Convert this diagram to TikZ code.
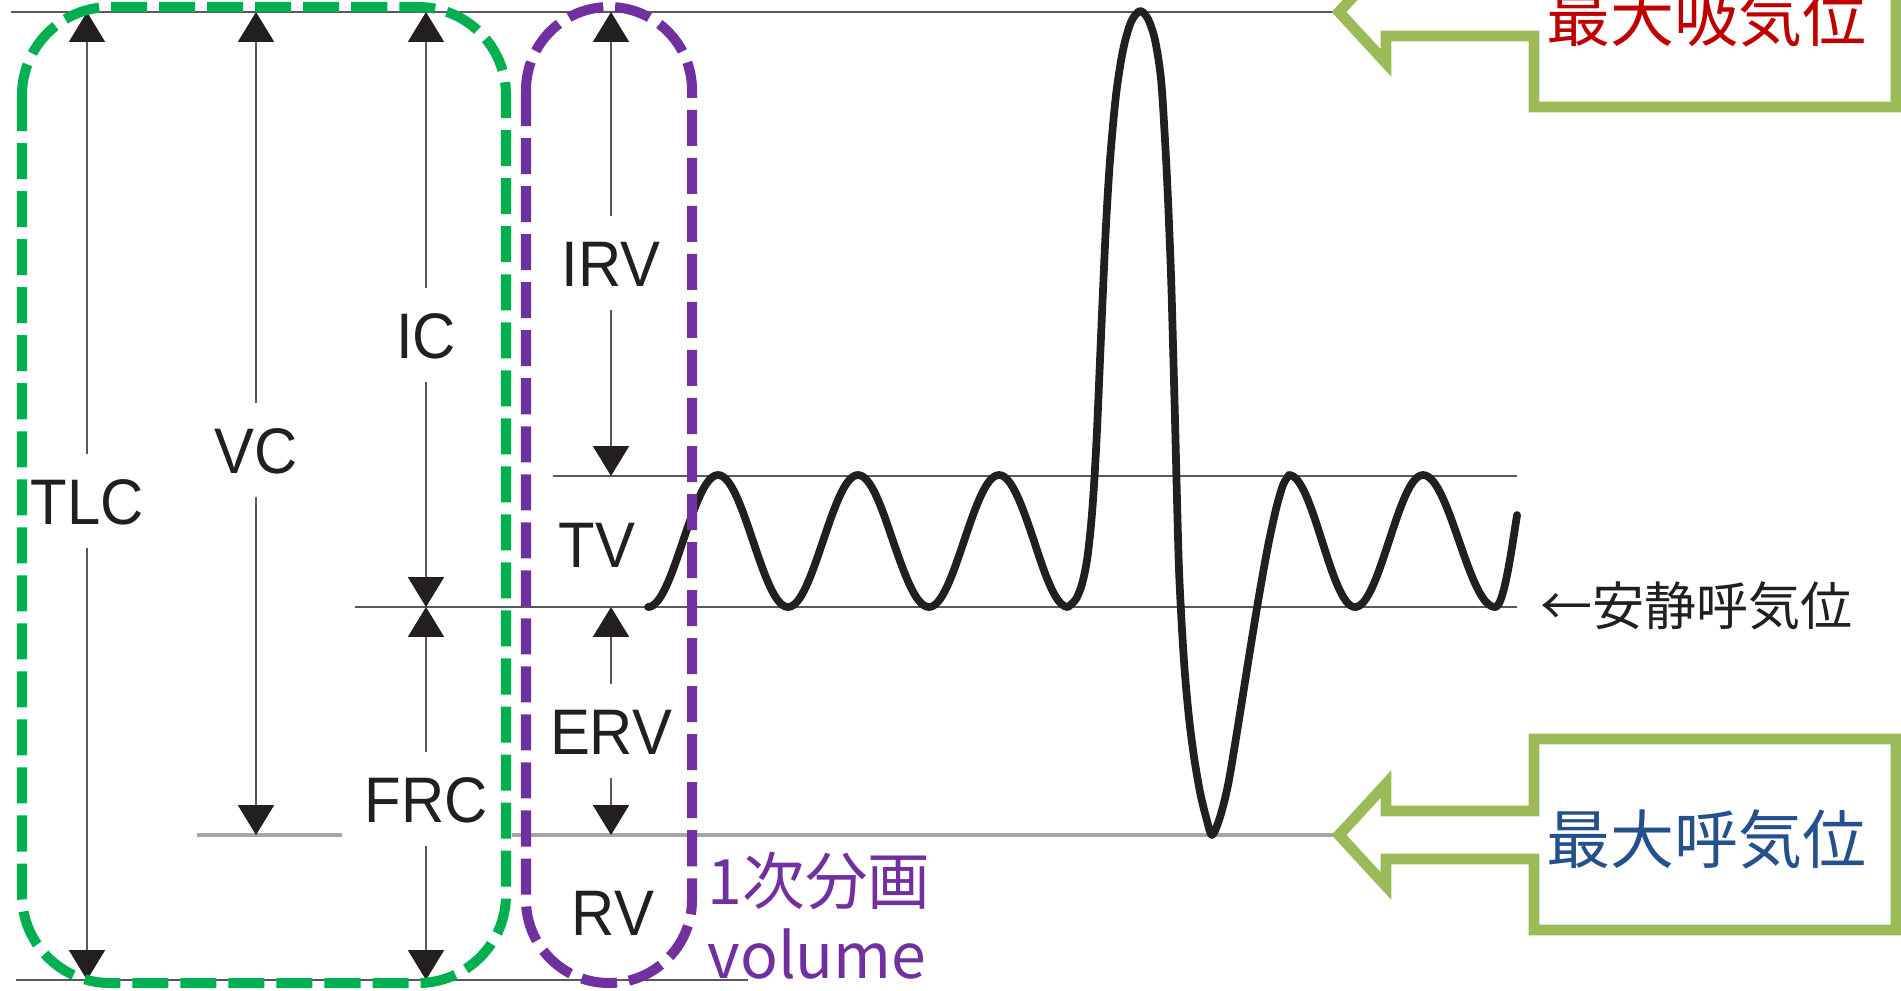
\documentclass[tikz,border=0pt]{standalone}
\usepackage{fontspec}
\setmainfont{Liberation Sans}
\newfontfamily\labfont[FakeStretch=0.93]{Liberation Sans}
\newfontfamily\jpfont{Noto Sans CJK JP}
\usetikzlibrary{arrows.meta}
\definecolor{dashgreen}{HTML}{00B050}
\definecolor{dashpurple}{HTML}{7030A0}
\definecolor{boxgreen}{HTML}{9BBB59}
\definecolor{inred}{HTML}{C00000}
\definecolor{exblue}{HTML}{24508C}
\definecolor{linegray}{HTML}{595959}
\definecolor{rvgray}{HTML}{A6A6A6}
\definecolor{inkblack}{HTML}{231F20}

\begin{document}
\begin{tikzpicture}[>={Triangle[width=10.2pt,length=8.5pt,color=inkblack]},x=0.010cm,y=-0.010cm,
 lab/.style={font=\labfont\fontsize{18.3}{20}\selectfont,text=inkblack,text height=13.1pt,text depth=0pt,inner xsep=2pt,inner ysep=6.5pt},
 dim/.style={->,draw=linegray,line width=0.6pt},
 level/.style={draw=linegray,line width=0.6pt},
 rvline/.style={draw=rvgray,line width=0.9pt},
 wave/.style={draw=inkblack,line width=2.2pt,line join=round,line cap=round},
 group/.style={line width=2.85pt,dash pattern=on 0.36cm off 0.12cm},
 callout/.style={draw=boxgreen,line width=3.1pt,fill=white},
 jp/.style={font=\jpfont\fontsize{18.2}{22}\selectfont,inner sep=0pt},
 pur/.style={font=\jpfont\fontsize{17.8}{20}\selectfont,text=dashpurple,inner sep=0pt,anchor=base west}]
\useasboundingbox (0,0) rectangle (1901,990);
% volume levels
\draw[level] (11,12) -- (1335,12);
\draw[level] (553,476) -- (1517,476);
\draw[level] (355,607) -- (1517,607);
\draw[rvline] (197,835) -- (342,835);
\draw[rvline] (512,835) -- (1335,835);
\draw[level,line width=0.8pt] (16,980) -- (748,980);
% spirogram
\draw[wave] (648,607) cos (683,541) sin (718,475) cos (753,541) sin (788,607)
 cos (823,541) sin (858,475) cos (893,541) sin (929,607)
 cos (964,541) sin (999,475) cos (1034,541) sin (1068,607)
 -- plot[smooth] coordinates {(1068,607) (1076,599) (1082,584) (1087,560) (1091,525) (1094,485)
 (1097,430) (1100,360) (1103,290) (1106,225) (1110,160) (1116,95) (1123,50) (1131,22) (1140,11)
 (1148,19) (1155,40) (1161,79) (1165,140) (1168,200) (1171,275) (1173,345) (1175,420)
 (1177,500) (1179,570) (1182,630) (1185,675) (1189,718) (1194,757) (1200,792) (1206,817)
 (1212,835) (1220,817) (1228,785) (1236,738) (1244,688) (1252,638) (1260,590) (1268,546)
 (1276,509) (1283,485) (1289,475)}
 cos (1322,541) sin (1355,607) cos (1389,541) sin (1423,475) cos (1459,541) sin (1495,607)
 cos (1517,515);
% labels
\node[lab] (tlc) at (87,501) {TLC};
\node[lab] (vc) at (256,450) {VC};
\node[lab] (ic) at (426,335) {IC};
\node[lab] (frc) at (426,799) {FRC};
\node[lab] (irv) at (611,263) {IRV};
\node[lab] (tv) at (597,544) {TV};
\node[lab] (erv) at (611,731) {ERV};
\node[lab] (rv) at (613,912) {RV};
\coordinate (tlctop) at (87,12);
\coordinate (tlcbot) at (87,980);
\coordinate (vctop) at (256,12);
\coordinate (vcbot) at (256,835);
\coordinate (ictop) at (426,12);
\coordinate (icbot) at (426,607);
\coordinate (frcbot) at (426,980);
\coordinate (irvtop) at (611,12);
\coordinate (irvbot) at (611,476);
\coordinate (ervtop) at (611,607);
\coordinate (ervbot) at (611,835);
\draw[dim] (tlc) -- (tlctop);
\draw[dim] (tlc) -- (tlcbot);
\draw[dim] (vc) -- (vctop);
\draw[dim] (vc) -- (vcbot);
\draw[dim] (ic) -- (ictop);
\draw[dim] (ic) -- (icbot);
\draw[dim] (frc) -- (icbot);
\draw[dim] (frc) -- (frcbot);
\draw[dim] (irv) -- (irvtop);
\draw[dim] (irv) -- (irvbot);
\draw[dim] (erv) -- (ervtop);
\draw[dim] (erv) -- (ervbot);
% groupings
\draw[group,draw=dashgreen,rounded corners=0.88cm] (22,7) rectangle (506,983);
\draw[group,draw=dashpurple,rounded corners=0.83cm] (526,7) rectangle (692,983);
\node[pur] (frac) at (707,904) {1次分画};
\node[pur] (vol) at (707,978) {volume};
% callouts
\draw[callout] (1339,12) -- (1386,-39) -- (1386,-12) -- (1534,-12) -- (1534,-84) -- (1896,-84)
 -- (1896,107) -- (1534,107) -- (1534,36) -- (1386,36) -- (1386,63) -- cycle;
\node[jp,text=inred] (maxin) at (1706,17) {最大吸気位};
\draw[callout] (1339,835) -- (1386,784) -- (1386,811) -- (1534,811) -- (1534,739) -- (1896,739)
 -- (1896,930) -- (1534,930) -- (1534,859) -- (1386,859) -- (1386,886) -- cycle;
\node[jp,text=exblue] (maxex) at (1706,839) {最大呼気位};
\node[font=\jpfont\fontsize{14.8}{18}\selectfont,text=inkblack,inner sep=0pt,anchor=west] (rest) at (1540,606) {←安静呼気位};
\end{tikzpicture}
\end{document}
